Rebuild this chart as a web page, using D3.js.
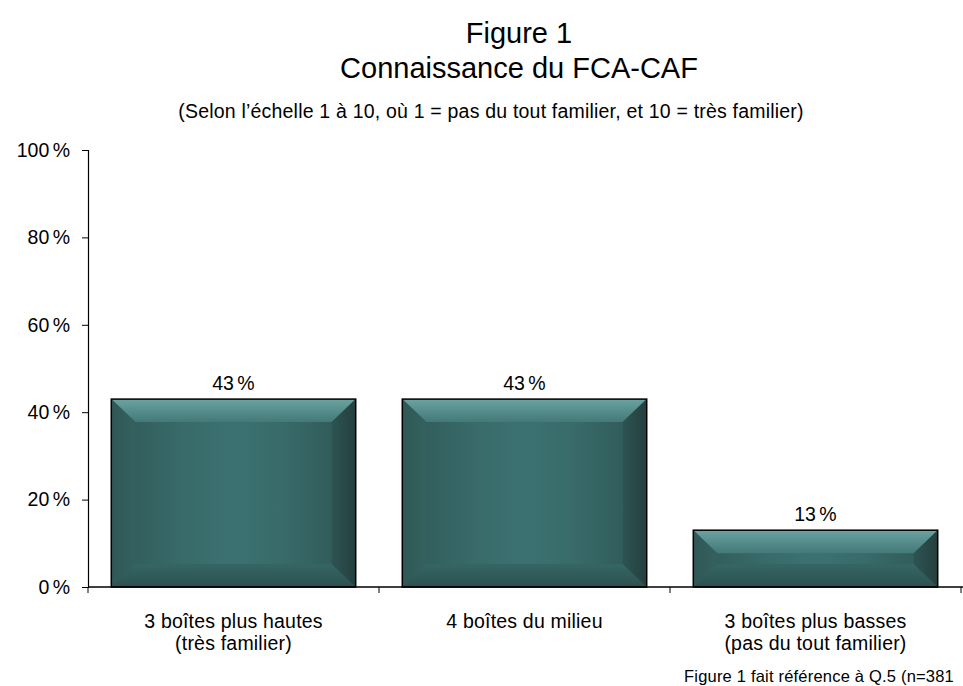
<!DOCTYPE html>
<html>
<head>
<meta charset="utf-8">
<script src="https://cdn.jsdelivr.net/npm/d3@7"></script>
<style>
  body { margin: 0; background: #fff; }
  svg { font-family: "Liberation Sans", Arial, sans-serif; }
</style>
</head>
<body>
<svg width="963" height="686"></svg>
<script>
// data
var categories = [
  ["3 boîtes plus hautes", "(très familier)"],
  ["4 boîtes du milieu"],
  ["3 boîtes plus basses", "(pas du tout familier)"]
];
var values = [43, 43, 13];
var yTicks = [0, 20, 40, 60, 80, 100];

var svg = d3.select("svg");
// note: "top" is reserved on window, so use plot* names
var plotLeft = 88, plotRight = 961, plotTop = 150, plotBottom = 587;
var fs = 19.5;

var x = d3.scaleBand()
  .domain(d3.range(categories.length))
  .range([plotLeft, plotRight])
  .paddingInner(0.16)
  .paddingOuter(0.08);

var y = d3.scaleLinear().domain([0, 100]).range([plotBottom, plotTop]);

// gradients for the bevelled bars
var defs = svg.append("defs");
function grad(id, x2, y2, stops) {
  var g = defs.append("linearGradient").attr("id", id)
    .attr("x1", 0).attr("y1", 0).attr("x2", x2).attr("y2", y2);
  stops.forEach(function(s) {
    g.append("stop").attr("offset", s[0]).attr("stop-color", s[1]);
  });
}
grad("face", 1, 0, [[0, "#305957"], [0.3, "#386b6a"], [0.5, "#3b7271"], [0.7, "#386b6a"], [1, "#2e5654"]]);
grad("topB", 0, 1, [[0, "#6aa3a1"], [1, "#437978"]]);
grad("botB", 0, 1, [[0, "#356665"], [1, "#2c5150"]]);
grad("leftB", 1, 0, [[0, "#2f5755"], [1, "#34615f"]]);
grad("rightB", 1, 0, [[0, "#2d5452"], [1, "#243f3e"]]);

// title
svg.append("text").attr("x", 519).attr("y", 43).attr("text-anchor", "middle")
  .attr("font-size", 29).text("Figure 1");
svg.append("text").attr("x", 519).attr("y", 78).attr("text-anchor", "middle")
  .attr("font-size", 29).text("Connaissance du FCA-CAF");
svg.append("text").attr("x", 491).attr("y", 118).attr("text-anchor", "middle")
  .attr("font-size", fs).attr("letter-spacing", 0.2)
  .text("(Selon l’échelle 1 à 10, où 1 = pas du tout familier, et 10 = très familier)");

// y axis
var yAxis = svg.append("g").attr("transform", "translate(" + plotLeft + ",0)")
  .call(d3.axisLeft(y).tickValues(yTicks).tickSize(6).tickPadding(12)
    .tickFormat(function(d) { return d + " %"; }));
yAxis.select(".domain").attr("stroke", "#000").attr("stroke-width", 1.2);
yAxis.selectAll(".tick line").attr("stroke", "#000");
yAxis.selectAll(".tick text").attr("font-size", fs).attr("fill", "#000").attr("word-spacing", -2)
  .attr("font-family", "Liberation Sans, Arial, sans-serif");

// bars
var bars = svg.append("g").selectAll("g").data(values).join("g");
bars.each(function(v, i) {
  var g = d3.select(this);
  var x0 = x(i), w = x.bandwidth(), y0 = y(v), h = y(0) - y(v);
  var bx = 24, by = Math.min(23, h / 2.3);
  var x1 = x0 + w, y1 = y0 + h;
  g.append("rect").attr("x", x0).attr("y", y0).attr("width", w).attr("height", h)
    .attr("fill", "url(#face)");
  function poly(pts, fill) {
    g.append("path").attr("d", "M" + pts.map(function(p) { return p.join(","); }).join("L") + "Z")
      .attr("fill", fill);
  }
  poly([[x0, y0], [x1, y0], [x1 - bx, y0 + by], [x0 + bx, y0 + by]], "url(#topB)");
  poly([[x0, y1], [x1, y1], [x1 - bx, y1 - by], [x0 + bx, y1 - by]], "url(#botB)");
  poly([[x0, y0], [x0 + bx, y0 + by], [x0 + bx, y1 - by], [x0, y1]], "url(#leftB)");
  poly([[x1, y0], [x1 - bx, y0 + by], [x1 - bx, y1 - by], [x1, y1]], "url(#rightB)");
  g.append("rect").attr("x", x0).attr("y", y0).attr("width", w).attr("height", h)
    .attr("fill", "none").attr("stroke", "#000").attr("stroke-width", 1.5);
  g.append("text").attr("x", x0 + w / 2).attr("y", y0 - 9).attr("text-anchor", "middle")
    .attr("font-size", fs).attr("word-spacing", -2).text(v + " %");
});

// x axis
var xAxis = svg.append("g").attr("transform", "translate(0," + plotBottom + ")");
xAxis.append("line").attr("x1", plotLeft).attr("x2", 963).attr("stroke", "#000").attr("stroke-width", 1.5);
var step = x.step();
var bounds = [plotLeft, plotLeft + x.paddingOuter() * step + x.bandwidth() + x.paddingInner() * step / 2];
bounds.push(bounds[1] + step);
bounds.push(plotRight);
xAxis.selectAll("line.tk").data(bounds).join("line").attr("class", "tk")
  .attr("x1", function(d) { return d; }).attr("x2", function(d) { return d; })
  .attr("y1", 0).attr("y2", 6).attr("stroke", "#000");

var labels = svg.append("g").selectAll("text").data(categories).join("text")
  .attr("text-anchor", "middle").attr("font-size", fs).attr("letter-spacing", 0.2)
  .attr("x", function(d, i) { return x(i) + x.bandwidth() / 2; })
  .attr("y", 628);
labels.selectAll("tspan").data(function(d) { return d; }).join("tspan")
  .attr("x", function() { return d3.select(this.parentNode).attr("x"); })
  .attr("dy", function(d, j) { return j ? 22 : 0; })
  .text(function(d) { return d; });

// footnote
svg.append("text").attr("x", 684).attr("y", 682).attr("font-size", 16.5).attr("letter-spacing", 0.2)
  .text("Figure 1 fait référence à Q.5 (n=381");
</script>
</body>
</html>
